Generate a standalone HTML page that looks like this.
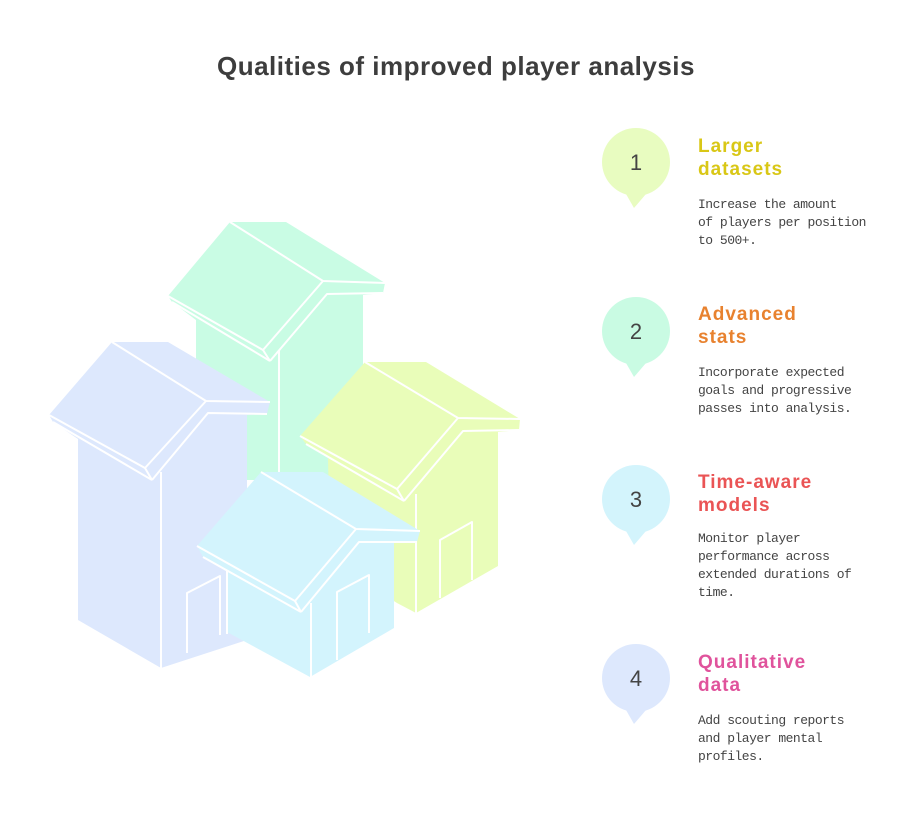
<!DOCTYPE html>
<html><head><meta charset="utf-8"><style>
html,body{margin:0;padding:0;background:#fff;}
body{width:912px;height:840px;position:relative;overflow:hidden;font-family:"Liberation Sans",sans-serif;}
.t{position:absolute;left:0;width:912px;top:51px;text-align:center;font-size:26px;font-weight:bold;color:#3d3d3d;letter-spacing:0.5px;}
.h{position:absolute;left:698px;font-size:19px;font-weight:bold;line-height:23px;letter-spacing:1px;}
.b{position:absolute;left:698px;font-family:"Liberation Mono",monospace;font-size:13px;letter-spacing:-0.5px;line-height:18px;color:#444;width:200px;white-space:nowrap;}
</style></head><body>
<div class="t">Qualities of improved player analysis</div>
<svg width="912" height="840" style="position:absolute;left:0;top:0">
<g stroke="#fff" stroke-width="2" stroke-linejoin="round" fill="none">
<polygon fill="#c9fce4" stroke="none" points="230,222 286,222 385,283 383,293 363,295 363,480 196,480 196,320 172,302 168,296"/>
<polyline points="230,222 323,281 385,283"/><polyline points="323,281 263,350 270,361"/>
<line x1="168" y1="296" x2="263" y2="350"/><line x1="172" y1="302" x2="270" y2="361"/>
<polyline points="270,361 327,294 383,293"/><line x1="279" y1="350" x2="279" y2="480"/>
<polygon fill="#dde8fd" stroke="none" points="112,342 168,342 270,402 267,414 247,415 247,640 161,668 78,620 78,439 53,422 49,415"/>
<polyline points="112,342 206,401 270,402"/><polyline points="206,401 145,468 152,480"/>
<line x1="49" y1="415" x2="145" y2="468"/><line x1="53" y1="422" x2="152" y2="480"/>
<polyline points="152,480 208,413 267,414"/><line x1="161" y1="472" x2="161" y2="668"/>
<polyline points="187,653 187,593 220,576 220,635"/>
<polygon fill="#e9fdb9" stroke="none" points="365,362 426,362 520,419 519,430 498,432 498,566 416,613 397,603 330,560 328,458 306,444 300,436"/>
<polyline points="365,362 458,418 520,419"/><polyline points="458,418 397,489 404,501"/>
<line x1="300" y1="436" x2="397" y2="489"/><line x1="306" y1="444" x2="404" y2="501"/>
<polyline points="404,501 463,431 519,430"/><line x1="416" y1="494" x2="416" y2="613"/>
<polyline points="440,598 440,540 472,522 472,580"/>
<polygon fill="#d3f4fd" stroke="none" points="261,472 323,472 420,531 417,542 394,543 394,628 310,677 227,632 227,570 203,557 197,546"/>
<polyline points="261,472 356,529 420,531"/><polyline points="356,529 295,601 301,612"/>
<line x1="197" y1="546" x2="295" y2="601"/><line x1="203" y1="557" x2="301" y2="612"/>
<polyline points="301,612 359,542 417,542"/><line x1="311" y1="603" x2="311" y2="677"/>
<line x1="227" y1="570" x2="227" y2="634"/>
<polyline points="337,660 337,592 369,575 369,633"/>
</g>
<g font-family="Liberation Sans, sans-serif" font-size="22" fill="#444" text-anchor="middle">
<circle cx="636" cy="162" r="34" fill="#e8fcc0"/><polygon points="626,194 646,194 634,208" fill="#e8fcc0"/><text x="636" y="170">1</text>
<circle cx="636" cy="331" r="34" fill="#c9fbe3"/><polygon points="626,363 646,363 634,377" fill="#c9fbe3"/><text x="636" y="339">2</text>
<circle cx="636" cy="499" r="34" fill="#d3f4fc"/><polygon points="626,531 646,531 634,545" fill="#d3f4fc"/><text x="636" y="507">3</text>
<circle cx="636" cy="678" r="34" fill="#dde8fd"/><polygon points="626,710 646,710 634,724" fill="#dde8fd"/><text x="636" y="686">4</text>
</g>
</svg>
<div class="h" style="top:135px;color:#d9c716">Larger<br>datasets</div>
<div class="b" style="top:196px">Increase the amount<br>of players per position<br>to 500+.</div>
<div class="h" style="top:303px;color:#e8822f">Advanced<br>stats</div>
<div class="b" style="top:364px">Incorporate expected<br>goals and progressive<br>passes into analysis.</div>
<div class="h" style="top:471px;color:#ea5455">Time-aware<br>models</div>
<div class="b" style="top:530px">Monitor player<br>performance across<br>extended durations of<br>time.</div>
<div class="h" style="top:651px;color:#e0539c">Qualitative<br>data</div>
<div class="b" style="top:712px">Add scouting reports<br>and player mental<br>profiles.</div>
</body></html>
